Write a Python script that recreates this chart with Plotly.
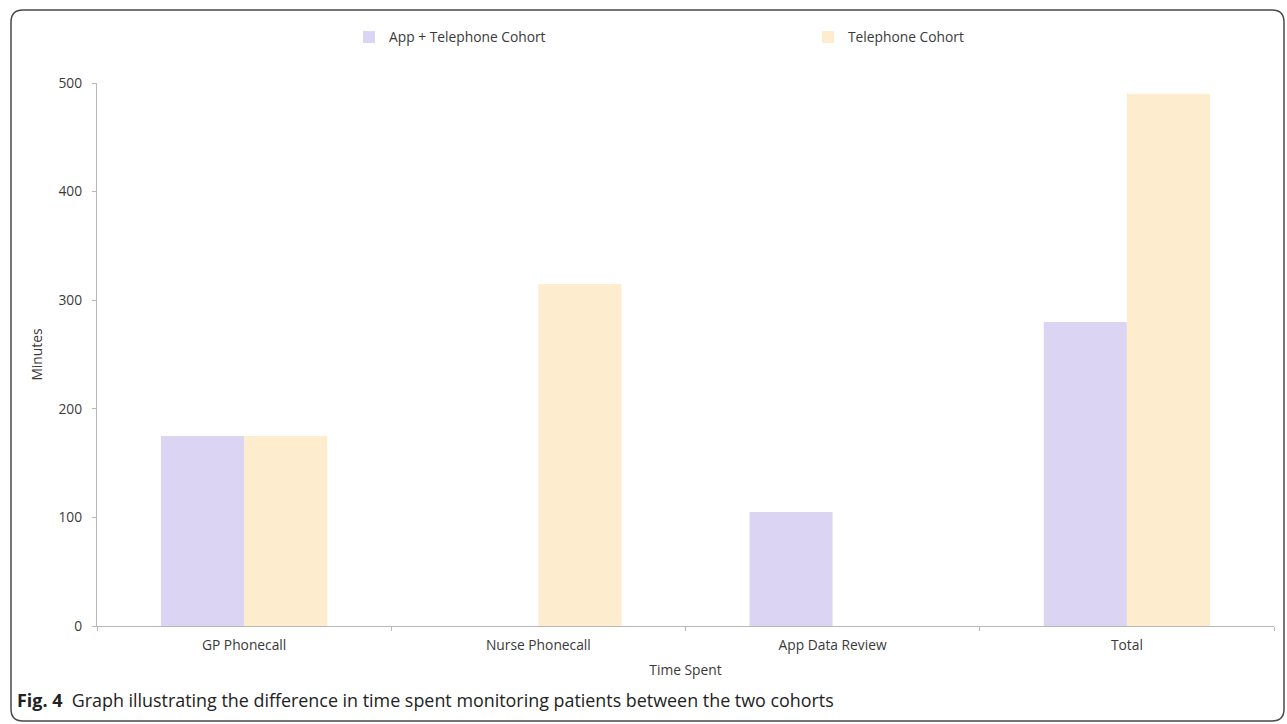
import plotly.graph_objects as go

categories = ["GP Phonecall", "Nurse Phonecall", "App Data Review", "Total"]
app_tel = [175, 0, 105, 280]
tel_only = [175, 315, 0, 490]
series_names = ["App + Telephone Cohort", "Telephone Cohort"]
y_ticks = [0, 100, 200, 300, 400, 500]

W, H = 1287, 724
ML, MR, MT, MB = 97, 13, 83, 98
PW, PH = W - ML - MR, H - MT - MB

def px(x):
    return (x - ML) / PW

def py(y):
    return (H - MB - y) / PH

FONT = "Open Sans"
TXT = "#3a3a3a"
FS = 13.8

fig = go.Figure()
fig.add_trace(go.Bar(name=series_names[0], x=categories, y=app_tel,
                     marker=dict(color="#dcd4f3", line=dict(width=0))))
fig.add_trace(go.Bar(name=series_names[1], x=categories, y=tel_only,
                     marker=dict(color="#fdecce", line=dict(width=0))))

# rounded border
x0, x1, y0, y1, r = 11, 1284, 10, 721, 12
path = (f"M {px(x0+r)},{py(y0)} L {px(x1-r)},{py(y0)} Q {px(x1)},{py(y0)} {px(x1)},{py(y0+r)} "
        f"L {px(x1)},{py(y1-r)} Q {px(x1)},{py(y1)} {px(x1-r)},{py(y1)} "
        f"L {px(x0+r)},{py(y1)} Q {px(x0)},{py(y1)} {px(x0)},{py(y1-r)} "
        f"L {px(x0)},{py(y0+r)} Q {px(x0)},{py(y0)} {px(x0+r)},{py(y0)} Z")

fig.update_layout(
    width=W, height=H,
    margin=dict(l=ML, r=MR, t=MT, b=MB, autoexpand=False),
    paper_bgcolor="white", plot_bgcolor="white",
    font=dict(family=FONT, size=FS, color=TXT),
    barmode="group", bargap=0.435, bargroupgap=0,
    showlegend=True,
    legend=dict(orientation="h", x=px(349), y=py(37), xanchor="left", yanchor="middle",
                entrywidth=414, entrywidthmode="pixels",
                font=dict(family=FONT, size=FS, color=TXT),
                bgcolor="rgba(0,0,0,0)"),
    xaxis=dict(showline=True, linecolor="#b8b8b8", linewidth=1.3,
               ticks="outside", tickson="boundaries", ticklen=4, tickcolor="#b8b8b8",
               showgrid=False, zeroline=False, ticklabelstandoff=6,
               title=dict(text="Time Spent", standoff=12, font=dict(size=FS, color=TXT))),
    yaxis=dict(range=[0, 500], tickvals=y_ticks, showline=True, linecolor="#b8b8b8",
               linewidth=1.3, ticks="outside", ticklen=4, tickcolor="#b8b8b8",
               showgrid=False, zeroline=False, ticklabelstandoff=7,
               title=dict(text="Minutes", standoff=12, font=dict(size=FS, color=TXT))),
    shapes=[dict(type="path", path=path, xref="paper", yref="paper",
                 line=dict(color="#4a4a4a", width=1.5), layer="above")],
    annotations=[dict(text="<b>Fig. 4</b>  Graph illustrating the difference in time spent monitoring patients between the two cohorts",
                      xref="paper", yref="paper", x=px(15), y=py(700), xanchor="left", yanchor="middle",
                      showarrow=False, font=dict(family=FONT, size=17.9, color="#222"))],
)

fig.write_html("out.html")
